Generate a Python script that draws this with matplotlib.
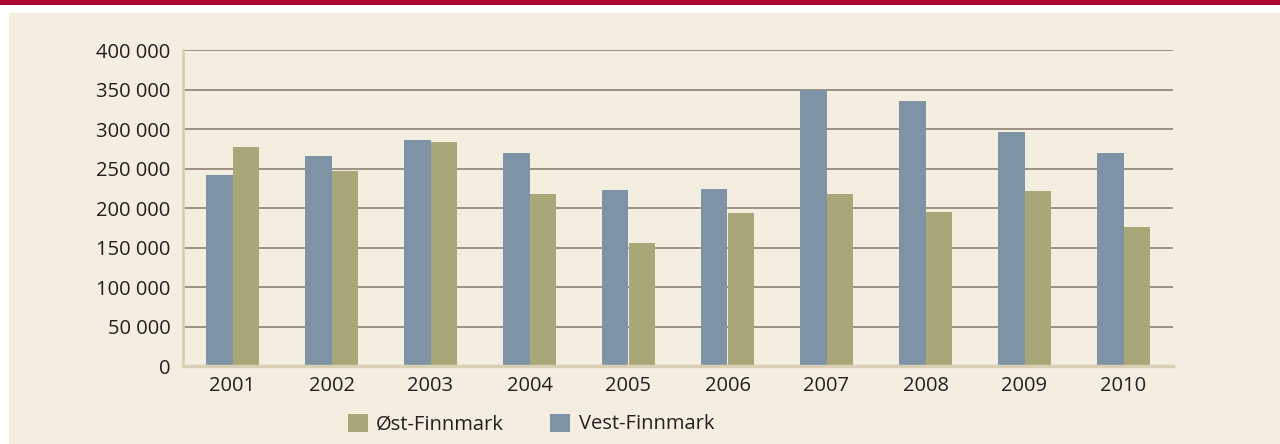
import matplotlib
matplotlib.use("Agg")
import matplotlib.pyplot as plt
from matplotlib.patches import Rectangle
import numpy as np

years = ["2001", "2002", "2003", "2004", "2005", "2006", "2007", "2008", "2009", "2010"]
vest_finnmark = [242000, 266000, 286000, 270000, 223000, 224000, 350000, 336000, 296000, 270000]
ost_finnmark = [277000, 247000, 284000, 218000, 156000, 194000, 218000, 195000, 222000, 176000]
y_ticks = [0, 50000, 100000, 150000, 200000, 250000, 300000, 350000, 400000]
y_tick_labels = ["0", "50 000", "100 000", "150 000", "200 000", "250 000", "300 000", "350 000", "400 000"]

plt.rcParams['font.family'] = ['Open Sans', 'DejaVu Sans']

W, H = 1280, 444
fig = plt.figure(figsize=(W / 100, H / 100), dpi=100, facecolor="white")

# background panel and top band
fig.add_artist(Rectangle((9 / W, 0), 1 - 9 / W, (H - 13) / H, transform=fig.transFigure,
                         facecolor="#f4eee1", edgecolor="none", zorder=0))
fig.add_artist(Rectangle((0, (H - 5) / H), 1, 5 / H, transform=fig.transFigure,
                         facecolor="#ab0033", edgecolor="none", zorder=0))

ax = fig.add_axes([183 / W, (H - 366) / H, 990 / W, 316 / H])
ax.set_facecolor("none")

x = np.arange(len(years))
bw = 0.27
vest_color = "#7f93a6"
ost_color = "#a9a678"
b_vest = ax.bar(x - bw / 2, vest_finnmark, width=bw, color=vest_color, label="Vest-Finnmark", zorder=2)
b_ost = ax.bar(x + bw / 2, ost_finnmark, width=bw, color=ost_color, label="Øst-Finnmark", zorder=2)

ax.set_xlim(-0.5, len(years) - 0.5)
ax.set_ylim(0, 400000)
ax.set_yticks(y_ticks)
ax.set_yticklabels(y_tick_labels)
ax.set_xticks(x)
ax.set_xticklabels(years)
fs = 14.5
ax.tick_params(axis="both", length=0, labelsize=fs, colors="#231f20")
ax.tick_params(axis="y", pad=9)
ax.tick_params(axis="x", pad=7)

for t in y_ticks[1:]:
    ax.axhline(t, color="#8f8175", lw=1.2, zorder=1)

for s in ["top", "right"]:
    ax.spines[s].set_visible(False)
ax.spines["left"].set_color("#d9cfb4")
ax.spines["left"].set_linewidth(2)
ax.spines["bottom"].set_color("#d9cfb4")
ax.spines["bottom"].set_linewidth(2.5)
ax.spines["bottom"].set_zorder(3)

leg = fig.legend(handles=[b_ost, b_vest], labels=["Øst-Finnmark", "Vest-Finnmark"],
                 loc="center", bbox_to_anchor=(531 / W, 20 / H), ncol=2, frameon=False,
                 fontsize=fs, handlelength=1.0, handleheight=1.0,
                 handletextpad=0.4, columnspacing=2.3, labelcolor="#231f20")

fig.savefig("out.png", dpi=100, facecolor="white")
